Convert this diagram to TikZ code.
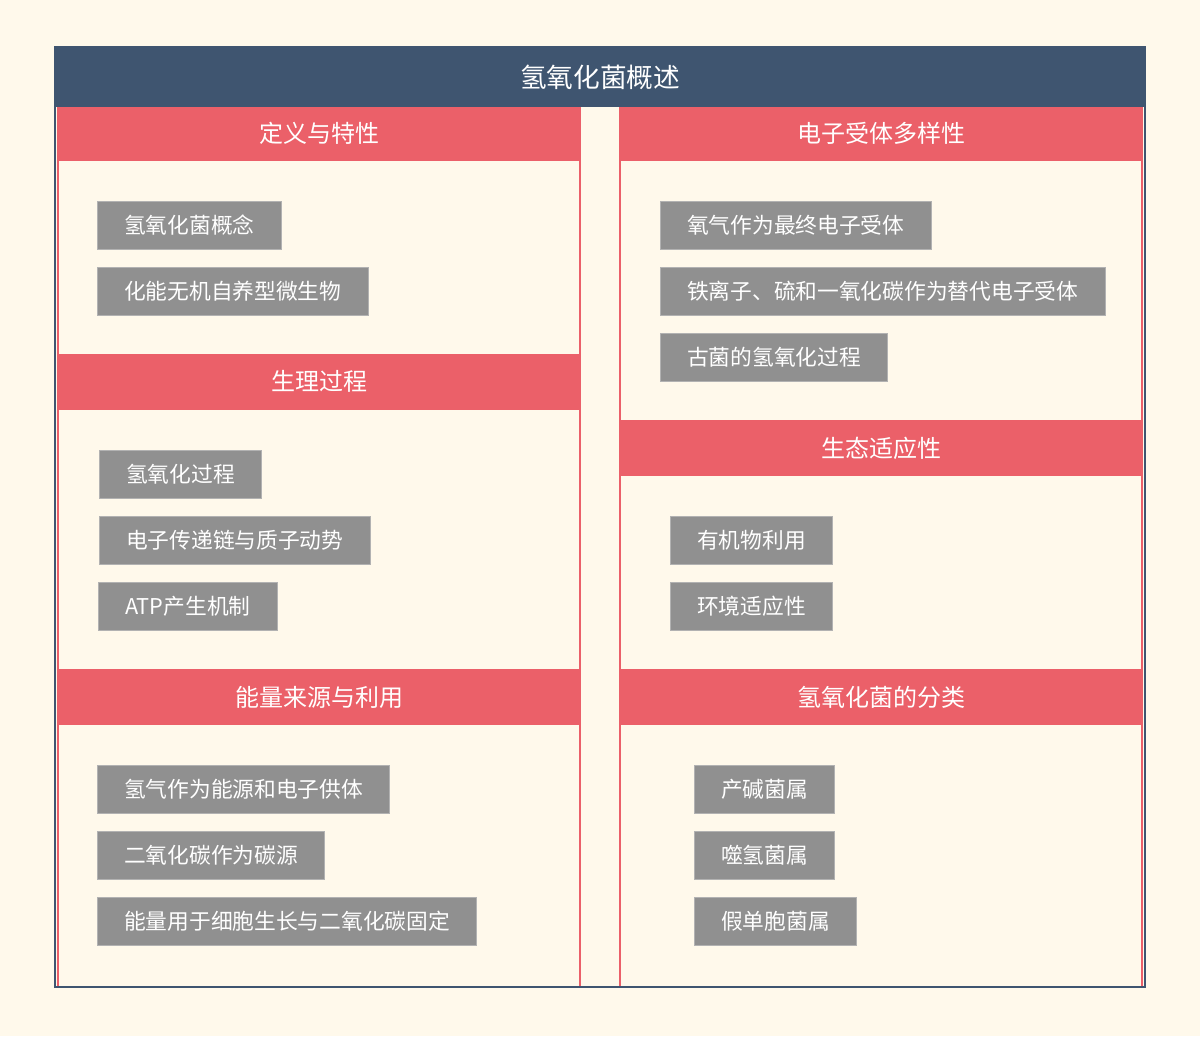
\documentclass[tikz,border=0pt]{standalone}
\usepackage{fontspec}
\setmainfont{Noto Sans CJK SC}
\usepackage{xcolor}
\usepackage{tikz}
\definecolor{bgcream}{HTML}{FFF9EB}
\definecolor{titleblue}{HTML}{3F5570}
\definecolor{headred}{HTML}{EB6069}
\definecolor{itemgray}{HTML}{909090}
\tikzset{
  headtext/.style={text=white,font=\fontsize{18}{21}\selectfont},
  item/.style={anchor=west,fill=itemgray,draw=gray!60,line width=0.6pt,text=white,
    minimum height=36pt,inner xsep=20pt,inner ysep=0pt,font=\fontsize{16.3}{19}\selectfont}
}
\begin{document}
\begin{tikzpicture}[x=0.75pt,y=-0.75pt]
\useasboundingbox[fill=bgcream] (0,0) rectangle (1200,1036);
% columns
\draw[headred,line width=1.2pt] (58,107) rectangle (580,987);
\draw[headred,line width=1.2pt] (620,107) rectangle (1142,987);
% frame and title
\draw[titleblue,line width=1.6pt] (55,47) rectangle (1145,987);
\fill[titleblue] (55,47) rectangle (1145,107);
\node[text=white,font=\fontsize{20}{24}\selectfont] (title) at (600,77) {氢氧化菌概述};
% left column headers
\fill[headred] (58,107) rectangle (580,161);
\node[headtext] (defn) at (319,133) {定义与特性};
\fill[headred] (58,354) rectangle (580,410);
\node[headtext] (phys) at (319,381) {生理过程};
\fill[headred] (58,669) rectangle (580,725);
\node[headtext] (energy) at (319,697) {能量来源与利用};
% right column headers
\fill[headred] (620,107) rectangle (1142,161);
\node[headtext] (accept) at (881,133) {电子受体多样性};
\fill[headred] (620,420) rectangle (1142,476);
\node[headtext] (eco) at (881,448) {生态适应性};
\fill[headred] (620,669) rectangle (1142,725);
\node[headtext] (class) at (881,697) {氢氧化菌的分类};
% left items
\node[item] (d1) at (97,225) {氢氧化菌概念};
\node[item] (d2) at (97,291) {化能无机自养型微生物};
\node[item] (p1) at (99,474) {氢氧化过程};
\node[item] (p2) at (99,540) {电子传递链与质子动势};
\node[item] (p3) at (98,606) {ATP产生机制};
\node[item] (e1) at (97,789) {氢气作为能源和电子供体};
\node[item] (e2) at (97,855) {二氧化碳作为碳源};
\node[item] (e3) at (97,921) {能量用于细胞生长与二氧化碳固定};
% right items
\node[item] (a1) at (660,225) {氧气作为最终电子受体};
\node[item] (a2) at (660,291) {铁离子、硫和一氧化碳作为替代电子受体};
\node[item] (a3) at (660,357) {古菌的氢氧化过程};
\node[item] (c1) at (670,540) {有机物利用};
\node[item] (c2) at (670,606) {环境适应性};
\node[item] (k1) at (694,789) {产碱菌属};
\node[item] (k2) at (694,855) {噬氢菌属};
\node[item] (k3) at (694,921) {假单胞菌属};
\end{tikzpicture}
\end{document}
